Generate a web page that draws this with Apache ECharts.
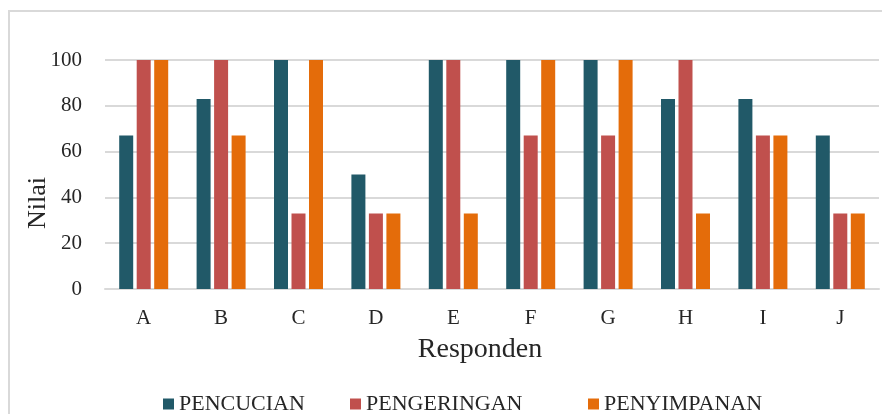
<!DOCTYPE html>
<html>
<head>
<meta charset="utf-8">
<script src="https://cdn.jsdelivr.net/npm/echarts@6/dist/echarts.min.js"></script>
<style>
  html, body { margin: 0; padding: 0; background: #fff; }
  #chart { width: 882px; height: 414px; }
</style>
</head>
<body>
<div id="chart"></div>
<script>
// data
const categories = ["A", "B", "C", "D", "E", "F", "G", "H", "I", "J"];
const seriesNames = ["PENCUCIAN", "PENGERINGAN", "PENYIMPANAN"];
const pencucian = [67, 83, 100, 50, 100, 100, 100, 83, 83, 67];
const pengeringan = [100, 100, 33, 33, 100, 67, 67, 100, 67, 33];
const penyimpanan = [100, 67, 100, 33, 33, 100, 100, 33, 67, 33];

const font = "Liberation Serif, Times New Roman, serif";
const colors = ["#215968", "#c0504d", "#e46c0a"];
const legendLeft = [158, 345, 583];

let myChart = echarts.init(document.getElementById("chart"));
myChart.setOption({
  animation: false,
  color: colors,
  textStyle: { fontFamily: font, color: "#262626" },
  graphic: [
    {
      type: "rect",
      shape: { x: 9, y: 11, width: 900, height: 420 },
      style: { fill: "none", stroke: "#d9d9d9", lineWidth: 2 },
    },
    {
      type: "text",
      x: 38,
      y: 203,
      rotation: Math.PI / 2,
      style: {
        text: "Nilai",
        font: "26px " + font,
        fill: "#262626",
        textAlign: "center",
        textVerticalAlign: "middle",
      },
    },
  ],
  grid: { left: 105, right: 3, top: 60, bottom: 125 },
  // one legend per series so each sits where it does in the picture
  legend: seriesNames.map((n, i) => ({
    left: legendLeft[i],
    top: 388,
    icon: "rect",
    itemWidth: 11,
    itemHeight: 11,
    textStyle: { fontFamily: font, fontSize: 22, color: "#262626" },
    data: [n],
  })),
  xAxis: {
    type: "category",
    data: categories,
    name: "Responden",
    nameLocation: "middle",
    nameGap: 47,
    nameTextStyle: {
      fontFamily: font,
      fontSize: 28,
      color: "#262626",
      padding: [0, 24, 0, 0],
    },
    axisLine: { lineStyle: { color: "#d9d9d9", width: 2 } },
    axisTick: { show: false },
    axisLabel: { fontFamily: font, fontSize: 21, color: "#262626", margin: 19 },
  },
  yAxis: {
    type: "value",
    min: 0,
    max: 100,
    interval: 20,
    axisLine: { show: false },
    axisTick: { show: false },
    axisLabel: { fontFamily: font, fontSize: 21, color: "#262626", margin: 23 },
    splitLine: { lineStyle: { color: "#d9d9d9", width: 2 } },
  },
  series: [
    {
      name: seriesNames[0],
      type: "bar",
      data: pencucian,
      barWidth: 14,
      barGap: "25%",
    },
    {
      name: seriesNames[1],
      type: "bar",
      data: pengeringan,
      barWidth: 14,
      barGap: "25%",
    },
    {
      name: seriesNames[2],
      type: "bar",
      data: penyimpanan,
      barWidth: 14,
      barGap: "25%",
    },
  ],
});
</script>
</body>
</html>
